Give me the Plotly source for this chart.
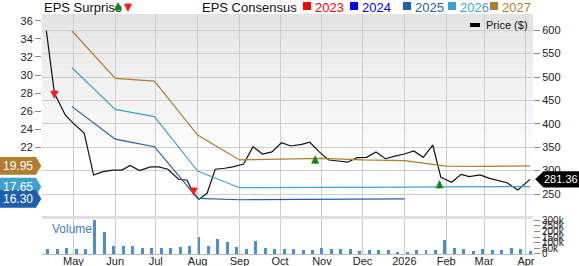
import plotly.graph_objects as go

# ---------------- data ----------------
price_dates = ["2025-04-11", "2025-04-17", "2025-04-25", "2025-05-01", "2025-05-09", "2025-05-16",
               "2025-05-23", "2025-05-30", "2025-06-06", "2025-06-12", "2025-06-19", "2025-06-27",
               "2025-07-03", "2025-07-10", "2025-07-18", "2025-07-24", "2025-07-29", "2025-08-02",
               "2025-08-08", "2025-08-14", "2025-08-21", "2025-08-27", "2025-09-04", "2025-09-11",
               "2025-09-18", "2025-09-25", "2025-10-02", "2025-10-09", "2025-10-17", "2025-10-23",
               "2025-10-30", "2025-11-06", "2025-11-13", "2025-11-20", "2025-11-27", "2025-12-04",
               "2025-12-11", "2025-12-18", "2025-12-25", "2026-01-01", "2026-01-08", "2026-01-15",
               "2026-01-22", "2026-01-28", "2026-02-05", "2026-02-12", "2026-02-18", "2026-02-26",
               "2026-03-05", "2026-03-12", "2026-03-18", "2026-03-26", "2026-04-04"]
price_values = [599, 465, 419, 401, 380, 290.6,
                297.7, 301, 301, 311, 300, 308,
                308, 303, 281, 280, 251.5, 239,
                251.5, 303, 305, 308, 314, 351,
                335.5, 340, 359.6, 352.6, 356, 360.5,
                340, 322.7, 320.5, 318, 327.6, 328.4,
                339.8, 325.4, 331, 335.5, 342, 328.4,
                354.7, 285.7, 275, 292, 287, 291,
                283.5, 279, 274, 258.5, 281.36]

cons_dates = ["2025-04-30", "2025-06-01", "2025-06-30", "2025-08-01", "2025-09-01", "2025-10-01",
              "2025-11-01", "2025-12-01", "2026-01-01", "2026-02-01", "2026-03-01", "2026-04-04"]
eps_2027 = [34.87, 29.63, 29.33, 23.36, 20.60, 20.70, 20.78, 20.60, 20.52, 19.93, 19.90, 19.95]
eps_2026 = [30.80, 26.20, 25.40, 19.38, 17.53, 17.53, 17.55, 17.58, 17.60, 17.62, 17.64, 17.65]
eps_2025 = [26.50, 22.90, 22.07, 16.36, 16.20, 16.22, 16.30, 16.30, 16.30]

surprise_dates = ["2025-04-17", "2025-07-29", "2025-10-27", "2026-01-27"]
surprise_price = [453, 246, 333, 280]
surprise_sign = [-1, -1, 1, 1]

vol_dates = ["2025-04-12", "2025-04-19", "2025-04-26", "2025-05-03", "2025-05-10", "2025-05-17",
             "2025-05-24", "2025-05-31", "2025-06-07", "2025-06-14", "2025-06-21", "2025-06-28",
             "2025-07-05", "2025-07-12", "2025-07-19", "2025-07-26", "2025-08-02", "2025-08-09",
             "2025-08-16", "2025-08-23", "2025-08-30", "2025-09-06", "2025-09-13", "2025-09-20",
             "2025-09-27", "2025-10-04", "2025-10-11", "2025-10-18", "2025-10-25", "2025-11-01",
             "2025-11-08", "2025-11-15", "2025-11-22", "2025-11-29", "2025-12-06", "2025-12-13",
             "2025-12-20", "2025-12-27", "2026-01-03", "2026-01-10", "2026-01-17", "2026-01-24",
             "2026-01-31", "2026-02-07", "2026-02-14", "2026-02-21", "2026-02-28", "2026-03-07",
             "2026-03-14", "2026-03-21", "2026-03-28", "2026-04-04"]
vol_values = [45000, 45000, 50000, 45000, 42000, 297000,
              190000, 69000, 69000, 69000, 54000, 54000,
              54000, 54000, 63000, 75000, 147000, 75000,
              135000, 108000, 60000, 42000, 114000, 57000,
              47000, 47000, 45000, 33000, 33000, 57000,
              48000, 45000, 45000, 27000, 39000, 33000,
              36000, 21000, 21000, 36000, 36000, 36000,
              126000, 54000, 45000, 27000, 48000, 36000,
              39000, 57000, 45000, 27000]

tick_dates = ["2025-05-01", "2025-06-01", "2025-07-01", "2025-08-01", "2025-09-01", "2025-10-01",
              "2025-11-01", "2025-12-01", "2026-01-01", "2026-02-01", "2026-03-01", "2026-04-01"]
tick_labels = ["May", "Jun", "Jul", "Aug", "Sep", "Oct", "Nov", "Dec", "2026", "Feb", "Mar", "Apr"]

price_ticks = [250, 300, 350, 400, 450, 500, 550, 600]
eps_ticks = [22, 24, 26, 28, 30, 32, 34, 36]
vol_ticks = [0, 50000, 100000, 150000, 200000, 250000, 300000]
vol_tick_labels = ["0", "50k", "100k", "150k", "200k", "250k", "300k"]

legend_years = ["2023", "2024", "2025", "2026", "2027"]
legend_colors = ["#ff0000", "#0000ff", "#1f5fae", "#3ea2cf", "#b07d2e"]

C25, C26, C27 = "#1f5fae", "#3ea2cf", "#b07d2e"
FONT = "Liberation Sans, Arial, sans-serif"
GREEN, RED = "#14881a", "#ff1a1a"

# ---------------- figure ----------------
fig = go.Figure()

fig.add_trace(go.Scatter(x=cons_dates, y=eps_2027, mode="lines", line=dict(color=C27, width=1.2),
                         yaxis="y2", hoverinfo="skip"))
fig.add_trace(go.Scatter(x=cons_dates, y=eps_2026, mode="lines", line=dict(color=C26, width=1.2),
                         yaxis="y2", hoverinfo="skip"))
fig.add_trace(go.Scatter(x=cons_dates[:len(eps_2025)], y=eps_2025, mode="lines",
                         line=dict(color=C25, width=1.2), yaxis="y2", hoverinfo="skip"))
fig.add_trace(go.Scatter(x=price_dates, y=price_values, mode="lines",
                         line=dict(color="#111111", width=1.2), yaxis="y", hoverinfo="skip"))
fig.add_trace(go.Bar(x=vol_dates, y=vol_values, marker=dict(color="#4a8fd2", line=dict(width=0)),
                     width=2.2 * 86400000, xaxis="x2", yaxis="y3", hoverinfo="skip"))

# domains
main_dom = [0.1583, 1.0]
vol_dom = [0.0, 0.1458]
xrange_ = ["2025-04-07 19:00", "2026-04-06 05:00"]

shapes = []
annotations = []

# gradient background for main pane
n = 40
for i in range(n):
    y0 = main_dom[0] + (main_dom[1] - main_dom[0]) * i / n
    y1 = main_dom[0] + (main_dom[1] - main_dom[0]) * (i + 1) / n
    t = (i + 0.5) / n  # 0 bottom, 1 top
    f = max(0.0, (t - 0.25) / 0.75)
    c = int(round(255 - (255 - 227) * f))
    shapes.append(dict(type="rect", xref="paper", yref="paper", x0=0, x1=1, y0=y0, y1=y1,
                       fillcolor=f"rgb({c},{c},{c})", line=dict(width=0), layer="below"))
# separator band
shapes.append(dict(type="rect", xref="paper", yref="paper", x0=0, x1=1, y0=0.1458, y1=0.1583,
                   fillcolor="#dedede", line=dict(width=0), layer="below"))

# EPS tags on left
for vals, col in [(eps_2027, C27), (eps_2026, C26), (eps_2025, C25)]:
    v = vals[-1]
    h = 0.98
    shapes.append(dict(type="path", xref="paper", yref="y2",
                       path=f"M -0.0855,{v - h} L -0.0122,{v - h} L -0.0015,{v} L -0.0122,{v + h} L -0.0855,{v + h} Z",
                       fillcolor=col, line=dict(width=0), layer="above"))
    annotations.append(dict(xref="paper", yref="y2", x=-0.049, y=v, text=f"{v:.2f}", showarrow=False,
                            font=dict(color="white", size=12, family=FONT), xanchor="center", yanchor="middle"))

# price tag on right
pv = price_values[-1]
ph = 17.5
shapes.append(dict(type="path", xref="paper", yref="y",
                   path=f"M 1.0045,{pv} L 1.0215,{pv - ph} L 1.0945,{pv - ph} L 1.0945,{pv + ph} L 1.0215,{pv + ph} Z",
                   fillcolor="#000000", line=dict(width=0), layer="above"))
annotations.append(dict(xref="paper", yref="y", x=1.057, y=pv, text=f"{pv:.2f}", showarrow=False,
                        font=dict(color="white", size=11, family=FONT), xanchor="center", yanchor="middle"))

ARW = dict(arrowhead=2, arrowsize=0.75, arrowwidth=2.2)

# EPS surprise arrows
for d, p, s in zip(surprise_dates, surprise_price, surprise_sign):
    col = GREEN if s > 0 else RED
    annotations.append(dict(xref="x", yref="y", x=d, y=p, ax=0, ay=(10 if s > 0 else -10),
                            text="", showarrow=True, arrowcolor=col, **ARW))

# header legend
annotations.append(dict(xref="paper", yref="paper", x=0.0, y=1.029, text="EPS Surprise", showarrow=False,
                        xanchor="left", yanchor="middle", font=dict(size=13, color="#111", family=FONT)))
annotations.append(dict(xref="paper", yref="paper", x=(118 - 42) / 491, y=(254 - 2) / 240, ax=0, ay=10,
                        text="", showarrow=True, arrowcolor=GREEN, **ARW))
annotations.append(dict(xref="paper", yref="paper", x=(128 - 42) / 491, y=(254 - 12) / 240, ax=0, ay=-10,
                        text="", showarrow=True, arrowcolor=RED, **ARW))
annotations.append(dict(xref="paper", yref="paper", x=(200 - 42) / 491, y=1.029, text="EPS Consensus",
                        showarrow=False, xanchor="left", yanchor="middle",
                        font=dict(size=13, color="#111", family=FONT)))
sq_x = [303, 350, 403, 448, 490]
for sx, yr, col in zip(sq_x, legend_years, legend_colors):
    shapes.append(dict(type="rect", xref="paper", yref="paper",
                       x0=(sx - 42) / 491, x1=(sx + 8 - 42) / 491,
                       y0=(254 - 10) / 240, y1=(254 - 2) / 240,
                       fillcolor=col, line=dict(width=0)))
    annotations.append(dict(xref="paper", yref="paper", x=(sx + 10 - 42) / 491, y=1.029, text=yr,
                            showarrow=False, xanchor="left", yanchor="middle",
                            font=dict(size=13, color=col, family=FONT)))

# Price legend inside plot
shapes.append(dict(type="rect", xref="paper", yref="paper",
                   x0=(470 - 42) / 491, x1=(480 - 42) / 491, y0=(254 - 27) / 240, y1=(254 - 23) / 240,
                   fillcolor="#000", line=dict(width=0)))
annotations.append(dict(xref="paper", yref="paper", x=(484 - 42) / 491, y=(254 - 25) / 240, text="Price ($)",
                        showarrow=False, xanchor="left", yanchor="middle",
                        font=dict(size=11, color="#111", family=FONT)))

# Volume label
annotations.append(dict(xref="paper", yref="paper", x=(50 - 42) / 491, y=(254 - 229) / 240, text="Volume",
                        showarrow=False, xanchor="left", yanchor="middle",
                        font=dict(size=12, color="#3a80c4", family=FONT)))

grid = "#cdcdcd"
fig.update_layout(
    width=579, height=266,
    margin=dict(l=42, r=46, t=14, b=12, autoexpand=False),
    paper_bgcolor="white", plot_bgcolor="rgba(0,0,0,0)",
    showlegend=False,
    font=dict(family=FONT, size=11, color="#222"),
    xaxis=dict(domain=[0, 1], anchor="y", range=xrange_, tickvals=tick_dates, ticktext=tick_labels,
               showticklabels=False, showgrid=True, gridcolor=grid, gridwidth=1, zeroline=False,
               ticks="", automargin=False),
    xaxis2=dict(domain=[0, 1], anchor="y3", range=xrange_, matches="x", tickvals=tick_dates,
                ticktext=tick_labels, showgrid=True, gridcolor=grid, gridwidth=1, zeroline=False,
                ticks="", ticklen=0, ticklabelstandoff=-3, tickfont=dict(size=11, color="#222"),
                showline=True, linecolor="#bbbbbb", automargin=False),
    yaxis=dict(domain=main_dom, anchor="x", side="right", range=[203, 634.6], tickvals=price_ticks,
               showgrid=True, gridcolor=grid, gridwidth=1, zeroline=False, ticks="outside",
               ticklen=6, tickcolor="#888", tickfont=dict(size=11, color="#222"), automargin=False),
    yaxis2=dict(domain=main_dom, anchor="x", overlaying="y", side="left", range=[14.4, 36.75],
                tickvals=eps_ticks, showgrid=False, zeroline=False, ticks="outside", ticklen=6,
                tickcolor="#888", tickfont=dict(size=11, color="#222"), automargin=False),
    yaxis3=dict(domain=vol_dom, anchor="x2", side="right", range=[0, 309000], tickvals=vol_ticks,
                ticktext=vol_tick_labels, showgrid=False, zeroline=False, ticks="outside", ticklen=6,
                tickcolor="#888", tickfont=dict(size=10, color="#222"), automargin=False),
    shapes=shapes,
    annotations=annotations,
    bargap=0,
)

fig.write_html("out.html")
